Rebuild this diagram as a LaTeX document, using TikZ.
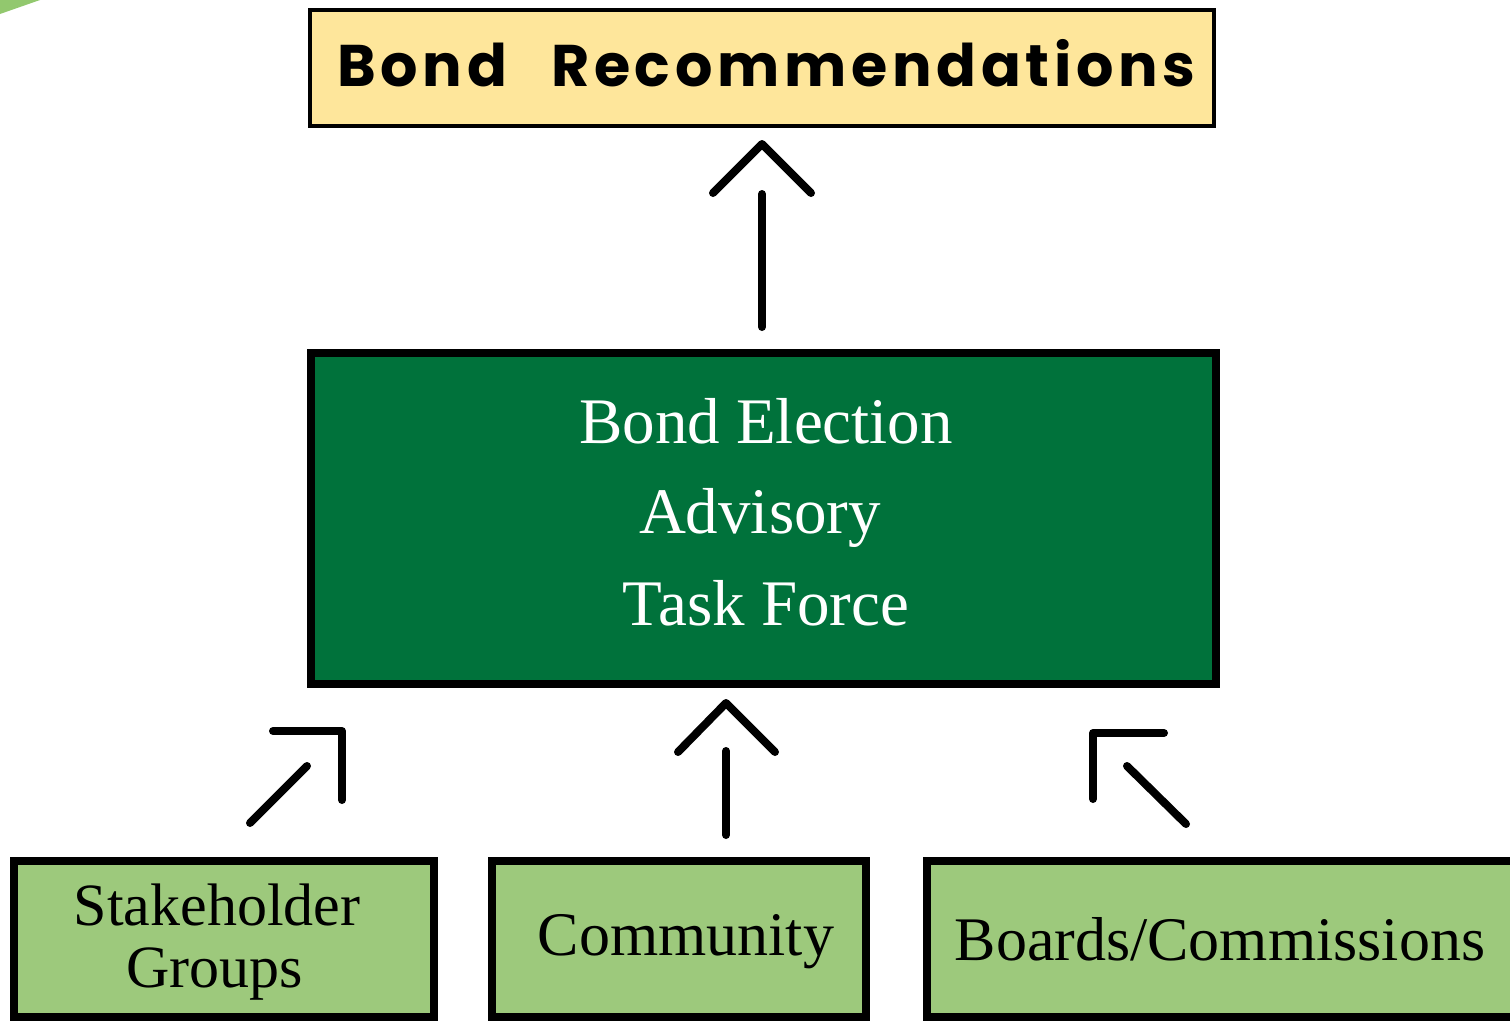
\documentclass[tikz,border=0pt]{standalone}
\usepackage{fontspec}
\usepackage{graphicx}
\setmainfont{Liberation Serif}
\newfontfamily\headfont[LetterSpace=8]{Poppins}
\definecolor{pale}{HTML}{FEE69B}
\definecolor{dgreen}{HTML}{00723B}
\definecolor{lgreen}{HTML}{9DC97C}
\definecolor{corner}{HTML}{92C86E}
\begin{document}
\begin{tikzpicture}[x=1pt,y=-1pt,
  boxbase/.style={draw=black,inner sep=0pt,anchor=center},
  recbox/.style={boxbase,line width=4pt,fill=pale,minimum width=904pt,minimum height=116pt},
  mainbox/.style={boxbase,line width=8pt,fill=dgreen,minimum width=905pt,minimum height=331pt},
  srcbox/.style={boxbase,line width=8pt,fill=lgreen,minimum height=156pt},
  wtext/.style={text=white,font=\fontsize{65}{90}\selectfont,align=center,anchor=base},
  btext/.style={text=black,font=\fontsize{62}{62}\selectfont,align=center,anchor=base},
  arrowline/.style={draw=black,line width=8pt,line cap=round,line join=round}]
\useasboundingbox (0,0) rectangle (1510,1021);
\fill[corner] (0,0) -- (40,0) -- (0,14) -- cycle;

% boxes
\node[recbox] (rec) at (762,68) {};
\node[anchor=base west,inner sep=0pt] (rectext) at (337,86) {\resizebox{858pt}{!}{\headfont\bfseries Bond\hspace{0.75em}Recommendations}};

\node[mainbox] (task) at (763.5,518.5) {};
\node[wtext] (tl1) at (766,443) {Bond Election};
\node[wtext] (tl2) at (760,533) {Advisory};
\node[wtext] (tl3) at (766,625) {Task Force};

\node[srcbox,minimum width=420pt] (stake) at (224,938.5) {};
\node[btext,font=\fontsize{60}{60}\selectfont] (st1) at (217,925) {Stakeholder};
\node[btext,font=\fontsize{60}{60}\selectfont] (st2) at (215,987) {Groups};

\node[srcbox,minimum width=374pt] (comm) at (679,938.5) {};
\node[btext] (cm) at (686,955) {Community};

\node[srcbox,minimum width=596pt] (boards) at (1225,938.5) {};
\node[btext] (bd) at (1220,960) {Boards/Commissions};

% top arrow
\coordinate (a1s) at (762,327);
\coordinate (a1e) at (762,194);
\coordinate (a1l) at (713,193);
\coordinate (a1t) at (762,144);
\coordinate (a1r) at (811,193);
\draw[arrowline] (a1s) -- (a1e);
\draw[arrowline] (a1l) -- (a1t) -- (a1r);

% middle bottom arrow
\coordinate (a2s) at (726,835);
\coordinate (a2e) at (726,751);
\coordinate (a2l) at (678,752);
\coordinate (a2t) at (726,703);
\coordinate (a2r) at (775,752);
\draw[arrowline] (a2s) -- (a2e);
\draw[arrowline] (a2l) -- (a2t) -- (a2r);

% left bottom arrow
\coordinate (a3s) at (250,823);
\coordinate (a3e) at (307,766);
\coordinate (a3h) at (273,731);
\coordinate (a3c) at (342,731);
\coordinate (a3v) at (342,800);
\draw[arrowline] (a3s) -- (a3e);
\draw[arrowline] (a3h) -- (a3c) -- (a3v);

% right bottom arrow
\coordinate (a4s) at (1186,824);
\coordinate (a4e) at (1127,766);
\coordinate (a4h) at (1164,733);
\coordinate (a4c) at (1093,733);
\coordinate (a4v) at (1093,799);
\draw[arrowline] (a4s) -- (a4e);
\draw[arrowline] (a4h) -- (a4c) -- (a4v);
\end{tikzpicture}
\end{document}
